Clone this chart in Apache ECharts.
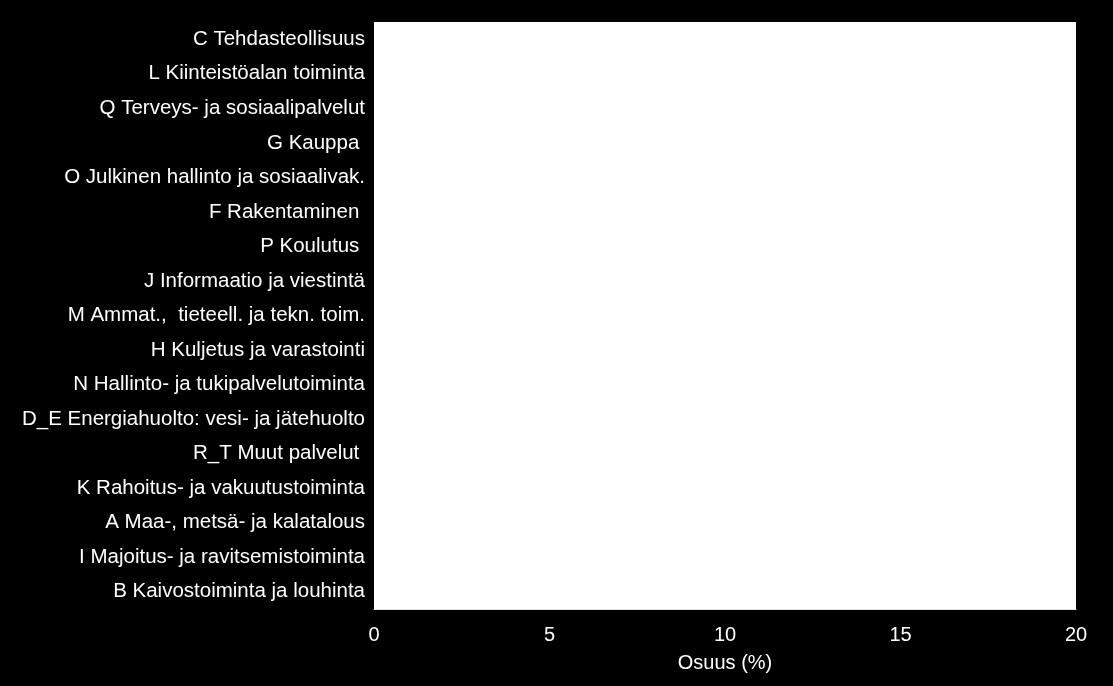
<!DOCTYPE html>
<html><head><meta charset="utf-8">
<script src="https://cdn.jsdelivr.net/npm/echarts@6/dist/echarts.min.js"></script>
<style>html,body{margin:0;padding:0;background:#000;}#c{width:1113px;height:686px;}</style>
</head><body><div id="c"></div>
<script>
const categories = [
  "C Tehdasteollisuus",
  "L Kiinteistöalan toiminta",
  "Q Terveys- ja sosiaalipalvelut",
  "G Kauppa ",
  "O Julkinen hallinto ja sosiaalivak.",
  "F Rakentaminen ",
  "P Koulutus ",
  "J Informaatio ja viestintä",
  "M Ammat.,  tieteell. ja tekn. toim.",
  "H Kuljetus ja varastointi",
  "N Hallinto- ja tukipalvelutoiminta",
  "D_E Energiahuolto: vesi- ja jätehuolto",
  "R_T Muut palvelut ",
  "K Rahoitus- ja vakuutustoiminta",
  "A Maa-, metsä- ja kalatalous",
  "I Majoitus- ja ravitsemistoiminta",
  "B Kaivostoiminta ja louhinta"
];
// Bars are not visible in the reference (white on white); values estimated.
const shares = [16.5, 12.5, 10.5, 10.0, 7.0, 6.8, 5.0, 4.9, 4.8, 4.7, 4.0, 3.0, 2.9, 2.8, 2.6, 1.7, 0.5];
const xTicks = { min: 0, max: 20, interval: 5 };

const chart = echarts.init(document.getElementById('c'));
chart.setOption({
  backgroundColor: '#000000',
  animation: false,
  grid: { left: 374, right: 37, top: 22, bottom: 77, containLabel: false,
          show: true, backgroundColor: '#ffffff', borderWidth: 0 },
  xAxis: {
    type: 'value', min: xTicks.min, max: xTicks.max, interval: xTicks.interval,
    name: 'Osuus (%)', nameLocation: 'middle', nameGap: 44,
    nameTextStyle: { color: '#ffffff', fontSize: 20, fontFamily: 'Liberation Sans' },
    axisLabel: { color: '#ffffff', fontSize: 20, margin: 16, fontFamily: 'Liberation Sans' },
    axisLine: { show: true, lineStyle: { color: '#e0e0e0', width: 1 } },
    axisTick: { show: false },
    splitLine: { show: false }
  },
  yAxis: {
    type: 'category', inverse: true, data: categories,
    axisLabel: { color: '#ffffff', fontSize: 20.5, margin: 9, padding: [5, 0, 0, 0],
                 fontFamily: 'Liberation Sans', interval: 0 },
    axisLine: { show: false }, axisTick: { show: false }, splitLine: { show: false }
  },
  series: [{
    type: 'bar', data: shares, barWidth: '60%',
    itemStyle: { color: '#ffffff' }, silent: true
  }]
});
</script></body></html>
